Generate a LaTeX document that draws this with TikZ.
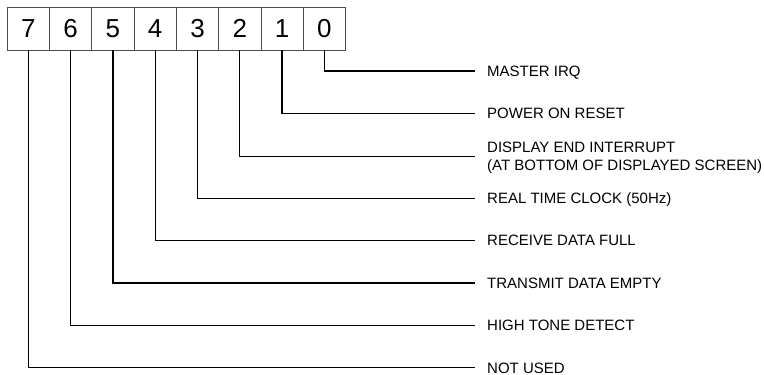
\documentclass[tikz,border=0pt]{standalone}
\usepackage{fontspec}
\setmainfont{Liberation Sans}
\begin{document}
\begin{tikzpicture}[x=1pt,y=-1pt,
  bitbox/.style={draw=black!70, line width=0.9pt, minimum width=42.3pt, minimum height=43pt, inner sep=0pt, font=\fontsize{26}{28}\selectfont},
  lab/.style={anchor=west, inner sep=0pt, font=\fontsize{15}{17.5}\selectfont, text height=10.7pt, text depth=0pt},
  lab2/.style={anchor=west, inner sep=0pt, font=\fontsize{15}{17.3}\selectfont, align=left, text depth=0pt},
  conn/.style={draw=black, line width=1.3pt}]
\useasboundingbox (0,0) rectangle (764,375);
\foreach \b in {0,...,7} {
  \node[bitbox] (b\b) at ({28.3+42.3*(7-\b)},28.5) {\b};
}
\node[lab] (l0) at (487,71) {MASTER IRQ};
\node[lab] (l1) at (487,113.4) {POWER ON RESET};
\node[lab2] (l2) at (487,156.3) {DISPLAY END INTERRUPT\\(AT BOTTOM OF DISPLAYED SCREEN)};
\node[lab] (l3) at (487,198.2) {REAL TIME CLOCK (50Hz)};
\node[lab] (l4) at (487,240.6) {RECEIVE DATA FULL};
\node[lab] (l5) at (487,283) {TRANSMIT DATA EMPTY};
\node[lab] (l6) at (487,325.4) {HIGH TONE DETECT};
\node[lab] (l7) at (487,367.8) {NOT USED};
\foreach \b in {0,...,7} {
  \draw[conn] (b\b.south) |- ([xshift=-12pt]l\b.west);
}
\end{tikzpicture}
\end{document}
